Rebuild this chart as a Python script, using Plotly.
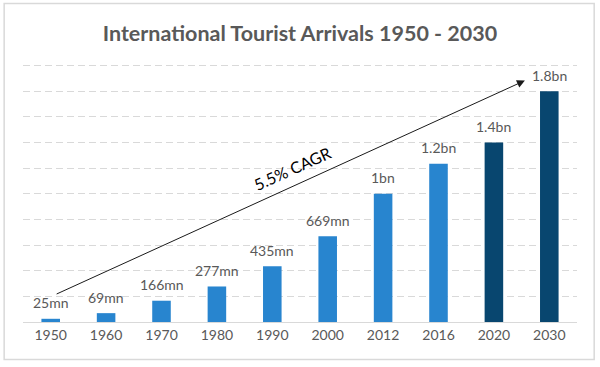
import plotly.graph_objects as go

years = ["1950", "1960", "1970", "1980", "1990", "2000", "2012", "2016", "2020", "2030"]
arrivals_mn = [25, 69, 166, 277, 435, 669, 1000, 1235, 1400, 1800]
value_labels = ["25mn", "69mn", "166mn", "277mn", "435mn", "669mn", "1bn", "1.2bn", "1.4bn", "1.8bn"]
is_forecast = [False, False, False, False, False, False, False, False, True, True]
title_text = "International Tourist Arrivals 1950 - 2030"
cagr_text = "5.5% CAGR"

LIGHT = "#2885CF"
DARK = "#08466F"
GREY = "#595959"
FONT = "Lato, 'Open Sans', sans-serif"

colors = [DARK if f else LIGHT for f in is_forecast]
pos = list(range(len(years)))

fig = go.Figure()
fig.add_trace(go.Bar(
    x=pos, y=arrivals_mn, marker_color=colors, marker_line_width=0,
    width=0.335, hoverinfo="skip",
))

# data labels above bars
for p, v, lab in zip(pos, arrivals_mn, value_labels):
    fig.add_annotation(x=p, y=v, text=lab, showarrow=False, yshift=16,
                       yanchor="middle", font=dict(family=FONT, size=14, color=GREY))

# CAGR arrow (data coordinates)
fig.add_annotation(x=8.56, y=1883, ax=0.08, ay=213, xref="x", yref="y",
                   axref="x", ayref="y", text="", showarrow=True,
                   arrowhead=2, arrowsize=1.6, arrowwidth=1, arrowcolor="#1a1a1a")
fig.add_annotation(x=4.35, y=1200, xref="x", yref="y", text=cagr_text,
                   showarrow=False, textangle=-24.4,
                   font=dict(family=FONT, size=16, color="#000000"))

# outer border
fig.add_shape(type="rect", xref="paper", yref="paper",
              x0=-0.034, x1=1.031, y0=-0.145, y1=1.23,
              line=dict(color="#d9d9d9", width=1.5), fillcolor="rgba(0,0,0,0)", layer="below")

fig.update_layout(
    width=600, height=367,
    margin=dict(l=23, r=23, t=63, b=45),
    paper_bgcolor="white", plot_bgcolor="white",
    showlegend=False,
    title=dict(text=title_text, x=0.5, xanchor="center", y=1 - 33 / 367, yanchor="middle",
               yref="container",
               font=dict(family=FONT, size=21.5, color=GREY, weight="bold")),
    xaxis=dict(range=[-0.5, len(years) - 0.5], tickvals=pos, ticktext=years,
               showgrid=False, showline=True, linecolor="#d9d9d9", zeroline=False,
               linewidth=1, ticks="", tickfont=dict(family=FONT, size=14, color=GREY)),
    yaxis=dict(range=[0, 2020], dtick=200, showgrid=True, gridcolor="#d9d9d9",
               griddash="7px,4px", gridwidth=1, zeroline=False, showticklabels=False,
               ticks=""),
)

fig.write_html("out.html", config={"displayModeBar": False, "staticPlot": True},
               post_script="document.body.style.margin='0';document.body.style.overflow='hidden';")
